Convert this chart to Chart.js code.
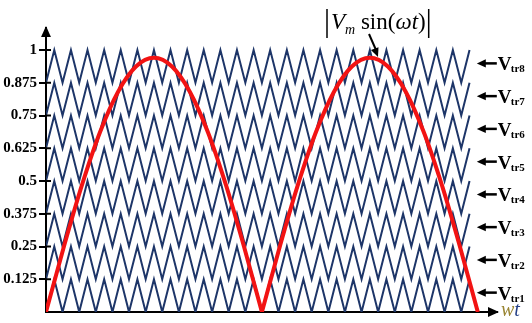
<!DOCTYPE html>
<html lang="en">
<head>
    <meta charset="UTF-8">
    <title>Carrier bands and rectified sine</title>
    <style>
        body { margin: 0; background: #fff; }
        #wrap { width: 532px; height: 323px; }
    </style>
    <script src="https://cdn.jsdelivr.net/npm/chart.js@4.4.1/dist/chart.umd.min.js"></script>
</head>
<body>

<div id="wrap"><canvas id="pwmChart" width="532" height="323"></canvas></div>

<script>
    // turning points of the triangle carriers (degrees of wt), trough first
    const carrierX = [0, 6.9, 13.8, 20.8, 27.7, 34.6, 41.5, 48.5, 55.4, 62.3, 69.2, 76.2, 83.1,
        90, 96.9, 103.8, 110.8, 117.7, 124.6, 131.5, 138.5, 145.4, 152.3, 159.2, 166.2, 173.1,
        180, 186.9, 193.8, 200.8, 207.7, 214.6, 221.5, 228.5, 235.4, 242.3, 249.2, 256.2, 263.1,
        270, 276.9, 283.8, 290.8, 297.7, 304.6, 311.5, 318.5, 325.4, 332.3, 339.2, 346.2, 353.1];
    const bandBase = [0, 0.125, 0.25, 0.375, 0.5, 0.625, 0.75, 0.875];
    const bandHeight = 0.125;
    const carrierNames = ['tr1', 'tr2', 'tr3', 'tr4', 'tr5', 'tr6', 'tr7', 'tr8'];

    // |Vm sin(wt)|, one hump per half cycle
    const hump1X = [0, 15, 30, 45, 60, 75, 90, 105, 120, 135, 150, 165, 180];
    const hump2X = [180, 195, 210, 225, 240, 255, 270, 285, 300, 315, 330, 345, 360];
    const humpY = [0, 0.251, 0.485, 0.686, 0.84, 0.937, 0.97, 0.937, 0.84, 0.686, 0.485, 0.251, 0];

    const yTickValues = [0.125, 0.25, 0.375, 0.5, 0.625, 0.75, 0.875, 1];
    const yTickLabels = ['0.125', '0.25', '0.375', '0.5', '0.625', '0.75', '0.875', '1'];

    const serif = '"Liberation Serif", "Times New Roman", serif';

    const datasets = [];
    [hump1X, hump2X].forEach(xs => {
        datasets.push({
            data: xs.map((x, i) => ({ x: x, y: humpY[i] })),
            borderColor: '#f21313',
            borderWidth: 4,
            pointRadius: 0,
            cubicInterpolationMode: 'monotone',
            order: 0
        });
    });
    bandBase.forEach(base => {
        datasets.push({
            data: carrierX.map((x, i) => ({ x: x, y: i % 2 === 0 ? base : base + bandHeight })),
            borderColor: '#1d3568',
            borderWidth: 2,
            borderJoinStyle: 'miter',
            pointRadius: 0,
            tension: 0,
            order: 1
        });
    });

    function arrowHead(ctx, x, y, angle, size) {
        ctx.save();
        ctx.translate(x, y);
        ctx.rotate(angle);
        ctx.beginPath();
        ctx.moveTo(0, 0);
        ctx.lineTo(-size, -size * 0.45);
        ctx.lineTo(-size, size * 0.45);
        ctx.closePath();
        ctx.fill();
        ctx.restore();
    }

    const decorations = {
        id: 'decorations',
        afterDraw(chart) {
            const ctx = chart.ctx;
            const area = chart.chartArea;
            const xs = chart.scales.x;
            const ys = chart.scales.y;
            ctx.save();
            ctx.fillStyle = '#000';
            ctx.strokeStyle = '#000';

            // axis arrowheads
            arrowHead(ctx, area.left, area.top - 2, -Math.PI / 2, 11);
            arrowHead(ctx, area.right + 2, area.bottom, 0, 11);

            // tick marks cross the y axis
            ctx.lineWidth = 2;
            yTickValues.forEach(v => {
                const y = ys.getPixelForValue(v);
                ctx.beginPath();
                ctx.moveTo(area.left, y);
                ctx.lineTo(area.left + 5, y);
                ctx.stroke();
            });

            // carrier labels
            bandBase.forEach((base, i) => {
                const y = ys.getPixelForValue(base + bandHeight / 2) - 3;
                const tip = xs.getPixelForValue(360) - 1;
                ctx.lineWidth = 2.5;
                ctx.beginPath();
                ctx.moveTo(tip + 6, y);
                ctx.lineTo(tip + 20, y);
                ctx.stroke();
                arrowHead(ctx, tip, y, Math.PI, 9);
                ctx.textBaseline = 'alphabetic';
                ctx.textAlign = 'left';
                ctx.font = 'bold 19px ' + serif;
                ctx.fillText('V', tip + 21, y + 7);
                ctx.font = 'bold 11px ' + serif;
                ctx.fillText(carrierNames[i], tip + 34, y + 9);
            });

            // |Vm sin(wt)| caption
            let cx = 327;
            const base = 29;
            ctx.lineWidth = 1.5;
            ctx.beginPath();
            ctx.moveTo(cx, 9);
            ctx.lineTo(cx, 38);
            ctx.stroke();
            cx += 4;
            const parts = [
                ['italic 23px ' + serif, 'V', 0],
                ['italic 14px ' + serif, 'm', 5],
                ['23px ' + serif, ' sin(', 0],
                ['italic 23px ' + serif, 'ωt', 0],
                ['23px ' + serif, ')', 0]
            ];
            parts.forEach(p => {
                ctx.font = p[0];
                ctx.fillText(p[1], cx, base + p[2]);
                cx += ctx.measureText(p[1]).width;
            });
            ctx.beginPath();
            ctx.moveTo(cx + 3, 9);
            ctx.lineTo(cx + 3, 38);
            ctx.stroke();

            // pointer from caption to the curve
            ctx.lineWidth = 2;
            ctx.beginPath();
            ctx.moveTo(369, 34);
            ctx.lineTo(376, 50);
            ctx.stroke();
            arrowHead(ctx, 378, 57, Math.atan2(23, 9), 9);

            // wt label
            ctx.font = 'italic 20px ' + serif;
            ctx.fillStyle = '#9a8634';
            ctx.fillText('w', area.right + 4, area.bottom + 4);
            const w = ctx.measureText('w').width;
            ctx.fillStyle = '#243f86';
            ctx.fillText('t', area.right + 4 + w, area.bottom + 4);
            ctx.restore();
        }
    };

    new Chart(document.getElementById('pwmChart'), {
        type: 'line',
        data: { datasets: datasets },
        options: {
            responsive: false,
            devicePixelRatio: 1,
            animation: false,
            layout: { padding: { left: 0, right: 35, top: 28, bottom: 11 } },
            plugins: { legend: { display: false }, tooltip: { enabled: false } },
            scales: {
                x: {
                    type: 'linear',
                    min: 0,
                    max: 376,
                    ticks: { display: false },
                    grid: { display: false, drawTicks: false },
                    border: { display: true, color: '#000', width: 2 },
                    afterFit: s => { s.height = 0; }
                },
                y: {
                    type: 'linear',
                    min: 0,
                    max: 1.084,
                    afterBuildTicks: s => { s.ticks = yTickValues.map(v => ({ value: v })); },
                    afterFit: s => { s.width = 46; },
                    ticks: {
                        color: '#000',
                        padding: 2,
                        font: { family: serif, size: 15, weight: 'bold' },
                        callback: (v) => yTickLabels[yTickValues.indexOf(v)]
                    },
                    grid: { drawOnChartArea: false, tickLength: 7, color: '#000', lineWidth: 2 },
                    border: { display: true, color: '#000', width: 2 }
                }
            }
        },
        plugins: [decorations]
    });
</script>

</body>
</html>
